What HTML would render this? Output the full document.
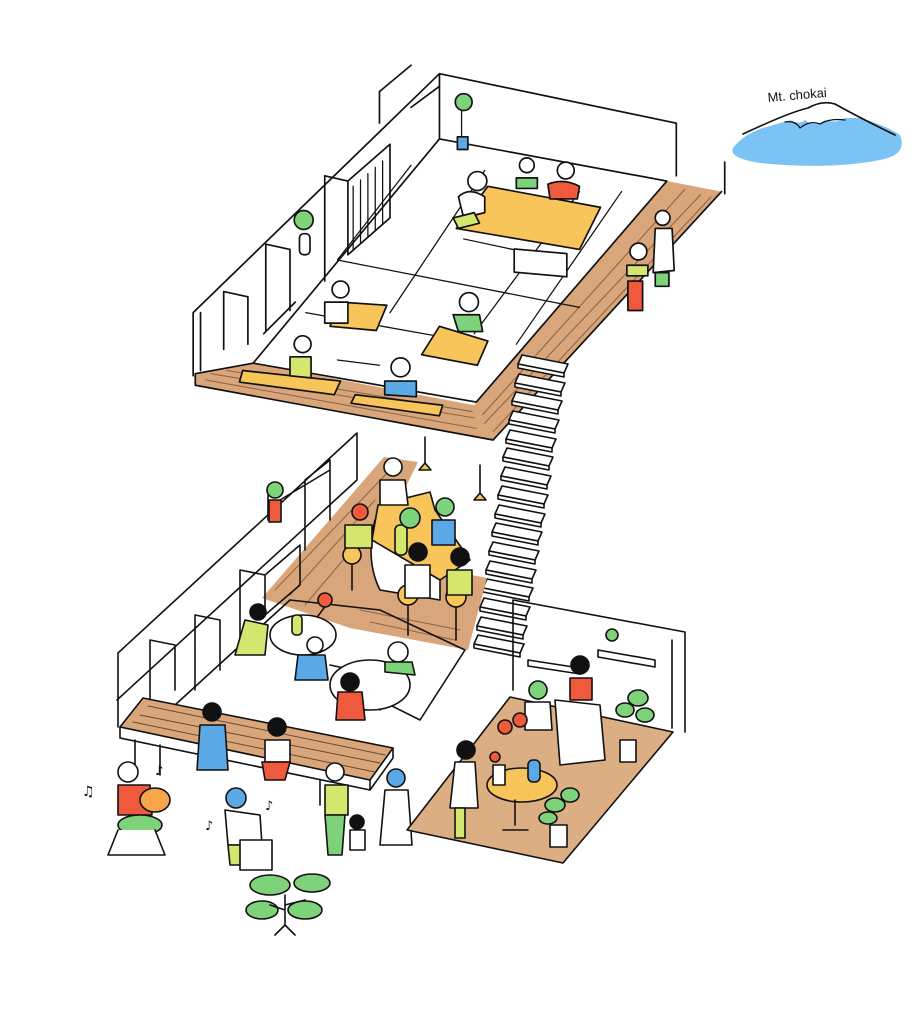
<!DOCTYPE html>
<html><head><meta charset="utf-8"><style>html,body{margin:0;padding:0;background:#fff}svg{display:block}</style></head>
<body>
<svg width="918" height="1024" viewBox="0 0 918 1024" xmlns="http://www.w3.org/2000/svg" stroke="#111" stroke-width="1.6" fill="none" stroke-linejoin="round" stroke-linecap="round">
<defs>
<g id="step"><polygon points="0,0 46,9 42,18 -4,9" fill="#fff"/><polygon points="-4,9 42,18 42,22 -4,13" fill="#fff"/></g>
</defs>
<text x="768" y="102" font-family="Liberation Sans, sans-serif" font-size="13" fill="#111" stroke="none" transform="rotate(-5 768 102)">Mt. chokai</text>
<path d="M733,148 Q745,132 770,126 Q790,120 800,118 L860,118 Q885,125 900,135 Q908,155 880,160 Q830,170 760,163 Q728,158 733,148Z" fill="#7cc3f5" stroke="none"/>
<path d="M790,120 Q800,125 805,120 Q815,128 825,120 Q835,124 845,118 L825,108 L805,110Z" fill="#fff" stroke="none"/>
<path d="M743,134 Q790,112 808,108 Q822,100 835,104 Q860,118 895,135" />
<path d="M785,122 Q795,120 800,128 Q810,120 820,124 Q830,118 845,120" stroke-width="1.2"/>

<g transform="translate(190,60) scale(1.0526) translate(-190,-60)">
<polygon points="195,358 250,348 460,388 643,175 695,185 478,421 195,369" fill="#d9a57a" stroke="none"/>
<polygon points="250,348 427,135 643,175 462,385" fill="#fff"/>
<g stroke="#6b4a2d" stroke-width="1" opacity="0.7">
<path d="M205,364 L462,410 M210,358 L460,400 M225,355 L458,394 M470,405 L675,188 M478,413 L685,190 M468,397 L660,183"/>
</g>
<path d="M195,358 L250,348 M195,369 L478,421 L695,185 M195,358 L195,369"/>
<path d="M193,360 L193,300 L427,73 L652,120 L652,170 M427,73 L427,135 M698,157 L698,187"/>
<path d="M200,355 L200,300 M222,335 L222,280 L245,285 L245,330 M262,318 L262,235 L285,240 L285,298 M318,270 L318,170 L340,175 L340,245 M340,175 L380,140 L380,210 L340,245 M370,120 L370,90 L400,65 M400,105 L427,85 M260,320 L290,290"/>
<g stroke-width="1.2"><path d="M345,180 L345,240 M352,174 L352,234 M359,168 L359,228 M366,162 L366,222 M373,156 L373,216"/></g>
<g stroke-width="1.2"><path d="M330,250 L560,295 M300,300 L440,325 M400,160 L330,250 M470,165 L380,300 M560,185 L460,320 M600,185 L500,330 M450,230 L520,245 M330,345 L370,350"/></g>
<polygon points="473,180 580,200 560,240 443,220" fill="#f7c55a"/>
<rect x="498" y="196" width="50" height="22" fill="#fff" transform="skewY(5)"/>
<polygon points="333,290 377,293 367,317 323,313" fill="#f7c55a"/>
<polygon points="427,313 473,327 463,350 410,340" fill="#f7c55a"/>
<polygon points="240,355 333,365 327,378 237,366" fill="#f7c55a"/>
<polygon points="347,378 430,388 427,398 343,386" fill="#f7c55a"/>
<circle cx="463" cy="175" r="9" fill="#fff"/><path d="M445,190 Q455,180 470,190 L470,205 L450,210Z" fill="#fff"/><path d="M440,210 L460,205 L465,215 L445,220Z" fill="#d4e66e"/>
<circle cx="510" cy="160" r="7" fill="#fff"/><path d="M500,172 L520,172 L520,182 L500,182Z" fill="#7ed27a"/>
<circle cx="547" cy="165" r="8" fill="#fff"/><path d="M530,178 Q545,172 560,180 L558,192 L532,192Z" fill="#f05a3c"/>
<circle cx="639" cy="210" r="7" fill="#fff"/><path d="M632,220 L648,220 L650,260 L630,262Z" fill="#fff"/><path d="M632,262 L645,262 L645,275 L632,275Z" fill="#7ed27a"/>
<circle cx="616" cy="242" r="8" fill="#fff"/><path d="M605,255 L625,255 L625,265 L605,265Z" fill="#d4e66e"/><path d="M606,270 L620,270 L620,298 L606,298Z" fill="#f05a3c"/>
<circle cx="333" cy="278" r="8" fill="#fff"/><path d="M318,290 L340,290 L340,310 L318,310Z" fill="#fff"/>
<circle cx="455" cy="290" r="9" fill="#fff"/><path d="M440,302 L465,302 L468,318 L445,318Z" fill="#7ed27a"/>
<circle cx="297" cy="330" r="8" fill="#fff"/><path d="M285,342 L305,342 L305,362 L285,360Z" fill="#d4e66e"/>
<circle cx="390" cy="352" r="9" fill="#fff"/><path d="M375,365 L405,365 L405,380 L375,378Z" fill="#5aa8e6"/>
<path d="M448,105 L448,135" stroke-width="1.2"/><circle cx="450" cy="100" r="8" fill="#7ed27a"/><rect x="444" y="133" width="10" height="12" fill="#5aa8e6"/>
<circle cx="298" cy="212" r="9" fill="#7ed27a"/><rect x="294" y="225" width="10" height="20" rx="4" fill="#fff"/>
</g>

<use href="#step" x="522" y="355"/><use href="#step" x="519" y="374"/><use href="#step" x="516" y="392"/><use href="#step" x="513" y="411"/><use href="#step" x="510" y="430"/><use href="#step" x="507" y="448"/><use href="#step" x="505" y="467"/><use href="#step" x="502" y="486"/><use href="#step" x="499" y="505"/><use href="#step" x="496" y="523"/><use href="#step" x="493" y="542"/><use href="#step" x="490" y="561"/><use href="#step" x="487" y="579"/><use href="#step" x="484" y="598"/><use href="#step" x="481" y="617"/><use href="#step" x="478" y="635"/>

<polygon points="262,598 384,457 418,462 372,555 487,578 468,650 350,628" fill="#d9a57a" stroke="none"/>
<g stroke="#6b4a2d" stroke-width="1" opacity="0.7"><path d="M275,590 L390,470 M290,595 L375,500 M305,605 L360,540 M360,610 L460,630 M370,622 L455,640"/></g>
<path d="M118,727 L118,653 L357,433 L357,480 M117,700 L357,480 M150,700 L150,640 L175,645 L175,690 M195,690 L195,615 L220,620 L220,670 M240,640 L240,570 L265,575 L265,615 M265,615 L300,585 L300,545 L265,575 M305,550 L305,480 L330,460 L330,520 M280,500 L330,470"/>
<path d="M175,705 L290,600 L380,610 L465,650 L420,720 L380,700"/>
<path d="M300,640 L330,600 M330,665 L400,680 M380,710 L410,670"/>
<path d="M375,520 Q365,560 380,590 L440,600 L440,560Z" fill="#fff"/>
<polygon points="378,505 430,492 435,510 470,560 440,580 372,540" fill="#f7c55a"/>
<path d="M425,437 L425,465 M480,465 L480,495"/><path d="M419,470 L431,470 L425,463Z" fill="#f7c55a"/><path d="M474,500 L486,500 L480,493Z" fill="#f7c55a"/>
<ellipse cx="303" cy="635" rx="33" ry="20" fill="#fff"/>
<ellipse cx="370" cy="685" rx="40" ry="25" fill="#fff"/>
<circle cx="352" cy="555" r="9" fill="#f7c55a"/><circle cx="408" cy="595" r="10" fill="#f7c55a"/><circle cx="456" cy="597" r="10" fill="#f7c55a"/>
<path d="M352,565 L352,590 M408,605 L408,635 M456,607 L456,640"/>
<circle cx="393" cy="467" r="9" fill="#fff"/><path d="M380,480 L405,480 L408,505 L380,505Z" fill="#fff"/>
<circle cx="360" cy="512" r="8" fill="#f05a3c"/><path d="M345,525 L372,525 L372,548 L345,548Z" fill="#d4e66e"/>
<circle cx="445" cy="507" r="9" fill="#7ed27a"/><path d="M432,520 L455,520 L455,545 L432,545Z" fill="#5aa8e6"/>
<circle cx="418" cy="552" r="9" fill="#111"/><path d="M405,565 L430,565 L430,598 L405,598Z" fill="#fff"/>
<circle cx="460" cy="557" r="9" fill="#111"/><path d="M447,570 L472,570 L472,595 L447,595Z" fill="#d4e66e"/>
<rect x="395" y="525" width="12" height="30" rx="5" fill="#d4e66e"/><circle cx="410" cy="518" r="10" fill="#7ed27a"/>
<circle cx="258" cy="612" r="8" fill="#111"/><path d="M245,620 L268,625 L265,655 L235,655Z" fill="#d4e66e"/>
<circle cx="325" cy="600" r="7" fill="#f05a3c"/><circle cx="315" cy="645" r="8" fill="#fff"/><path d="M298,655 L325,655 L328,680 L295,680Z" fill="#5aa8e6"/>
<circle cx="398" cy="652" r="10" fill="#fff"/><path d="M385,662 L412,662 L415,675 L385,672Z" fill="#7ed27a"/>
<circle cx="350" cy="682" r="9" fill="#111"/><path d="M338,692 L362,692 L365,720 L336,720Z" fill="#f05a3c"/>
<rect x="292" y="615" width="10" height="20" rx="4" fill="#d4e66e"/>
<path d="M268,495 L268,520" /><circle cx="275" cy="490" r="8" fill="#7ed27a"/><rect x="269" y="500" width="12" height="22" fill="#f05a3c"/>
<polygon points="120,727 143,698 393,748 370,780" fill="#d9a57a"/>
<path d="M120,727 L120,738 L370,790 L370,780 M370,790 L393,758 L393,748"/>
<g stroke="#6b4a2d" stroke-width="1"><path d="M140,715 L380,763 M148,706 L385,755 M133,722 L375,772"/></g>
<path d="M135,740 L135,770 M160,745 L160,775 M320,780 L320,805 M345,785 L345,810"/>
<circle cx="212" cy="712" r="9" fill="#111"/><path d="M200,725 L225,725 L228,770 L197,770Z" fill="#5aa8e6"/>
<circle cx="277" cy="727" r="9" fill="#111"/><path d="M265,740 L290,740 L290,762 L265,762Z" fill="#fff"/><path d="M262,762 L290,762 L285,780 L265,780Z" fill="#f05a3c"/>
<circle cx="128" cy="772" r="10" fill="#fff"/><path d="M118,785 L150,785 L152,815 L118,815Z" fill="#f05a3c"/><ellipse cx="140" cy="825" rx="22" ry="10" fill="#7ed27a"/><ellipse cx="155" cy="800" rx="15" ry="12" fill="#f7a64a"/>
<path d="M118,830 L108,855 L165,855 L155,830" fill="#fff"/>
<circle cx="236" cy="798" r="10" fill="#5aa8e6"/><path d="M225,810 L260,815 L262,845 L228,845Z" fill="#fff"/><path d="M228,845 L255,845 L250,865 L230,865Z" fill="#d4e66e"/><rect x="240" y="840" width="32" height="30" fill="#fff"/>
<circle cx="335" cy="772" r="9" fill="#fff"/><path d="M325,785 L348,785 L348,815 L325,815Z" fill="#d4e66e"/><path d="M325,815 L345,815 L342,855 L328,855Z" fill="#7ed27a"/>
<circle cx="357" cy="822" r="7" fill="#111"/><path d="M350,830 L365,830 L365,850 L350,850Z" fill="#fff"/>
<circle cx="396" cy="778" r="9" fill="#5aa8e6"/><path d="M385,790 L408,790 L412,845 L380,845Z" fill="#fff"/>
<g fill="#7ed27a"><ellipse cx="270" cy="885" rx="20" ry="10"/><ellipse cx="312" cy="883" rx="18" ry="9"/><ellipse cx="262" cy="910" rx="16" ry="9"/><ellipse cx="305" cy="910" rx="17" ry="9"/></g>
<path d="M285,925 L285,895 M285,910 L270,905 M285,905 L305,900 M275,935 L285,925 L295,935"/>
<text x="82" y="796" font-size="14" fill="#111" stroke="none" font-family="DejaVu Sans, sans-serif">♫</text>
<text x="155" y="775" font-size="13" fill="#111" stroke="none" font-family="DejaVu Sans, sans-serif">♪</text>
<text x="205" y="830" font-size="13" fill="#111" stroke="none" font-family="DejaVu Sans, sans-serif">♪</text>
<text x="265" y="810" font-size="13" fill="#111" stroke="none" font-family="DejaVu Sans, sans-serif">♪</text>

<polygon points="510,697 407,830 563,863 673,732" fill="#dcae83"/>
<path d="M513,600 L513,690 M513,600 L685,632 L685,732 M672,640 L672,728"/>
<path d="M528,660 L580,668 L580,674 L528,666Z M598,650 L655,660 L655,667 L598,657Z"/>
<path d="M555,700 L600,705 L605,760 L560,765 Z" fill="#fff"/>
<circle cx="580" cy="665" r="9" fill="#111"/><path d="M570,678 L592,678 L592,700 L570,700Z" fill="#f05a3c"/>
<circle cx="538" cy="690" r="9" fill="#7ed27a"/><path d="M525,702 L550,702 L552,730 L525,730Z" fill="#fff"/>
<ellipse cx="522" cy="785" rx="35" ry="17" fill="#f7c55a"/><path d="M515,800 L515,825 M503,830 L528,830"/>
<rect x="528" y="760" width="12" height="22" rx="5" fill="#5aa8e6"/><rect x="493" y="765" width="12" height="20" fill="#fff"/>
<g fill="#f05a3c"><circle cx="505" cy="727" r="7"/><circle cx="520" cy="720" r="7"/><circle cx="495" cy="757" r="5"/></g>
<circle cx="466" cy="750" r="9" fill="#111"/><path d="M455,762 L475,762 L478,808 L450,808Z" fill="#fff"/><rect x="455" y="808" width="10" height="30" fill="#d4e66e"/>
<g fill="#7ed27a"><ellipse cx="638" cy="698" rx="10" ry="8"/><ellipse cx="625" cy="710" rx="9" ry="7"/><ellipse cx="645" cy="715" rx="9" ry="7"/><ellipse cx="555" cy="805" rx="10" ry="7"/><ellipse cx="570" cy="795" rx="9" ry="7"/><ellipse cx="548" cy="818" rx="9" ry="6"/></g>
<rect x="620" y="740" width="16" height="22" fill="#fff"/><rect x="550" y="825" width="17" height="22" fill="#fff"/>
<circle cx="612" cy="635" r="6" fill="#7ed27a"/>
</svg>
</body></html>
